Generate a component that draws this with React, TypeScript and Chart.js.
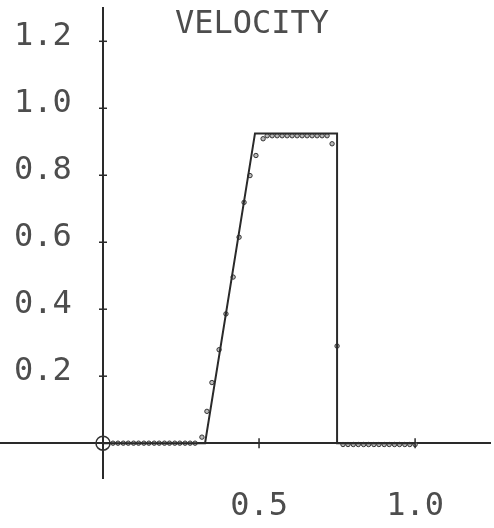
import React, { useEffect, useRef } from 'react';
import { Chart, registerables } from 'chart.js';

Chart.register(...registerables);

const TITLE = 'VELOCITY';

// exact solution (solid line)
const exactX = [0, 0.327, 0.487, 0.75, 0.75, 1.0];
const exactY = [0, 0, 0.925, 0.925, 0, 0];

// computed particle velocities (markers)
const particleX = [
  0.032, 0.048, 0.065, 0.081, 0.098, 0.114, 0.131, 0.147, 0.164, 0.18, 0.197, 0.213, 0.23, 0.246, 0.263, 0.279, 0.295,
  0.317, 0.333, 0.349, 0.372, 0.394, 0.417, 0.436, 0.452, 0.471, 0.49, 0.513,
  0.526, 0.542, 0.558, 0.574, 0.59, 0.606, 0.622, 0.638, 0.654, 0.67, 0.686, 0.702, 0.718,
  0.734, 0.75,
  0.769, 0.785, 0.802, 0.818, 0.835, 0.851, 0.868, 0.884, 0.901, 0.917, 0.934, 0.95, 0.967, 0.983, 1.0,
];
const particleY = [
  0, 0, 0, 0, 0, 0, 0, 0, 0, 0, 0, 0, 0, 0, 0, 0, 0,
  0.018, 0.095, 0.181, 0.279, 0.386, 0.496, 0.615, 0.719, 0.799, 0.859, 0.909,
  0.918, 0.918, 0.918, 0.918, 0.918, 0.918, 0.918, 0.918, 0.918, 0.918, 0.918, 0.918, 0.918,
  0.894, 0.29,
  -0.004, -0.004, -0.004, -0.004, -0.004, -0.004, -0.004, -0.004, -0.004, -0.004, -0.004, -0.004, -0.004, -0.004, -0.004,
];

const originX = [0];
const originY = [0];

const xTickValues = [0.5, 1.0];
const yTickValues = [0.2, 0.4, 0.6, 0.8, 1.0, 1.2];

const X_MIN = -0.33;
const X_MAX = 1.24;
const Y_MIN = -0.104;
const Y_MAX = 1.3;
const Y_LABEL_ANCHOR = -0.1; // x value where the y tick labels end

const FONT_FAMILY = '"DejaVu Sans Mono", "Liberation Mono", monospace';
const INK = '#2a2a2a';
const LABEL_INK = '#4d4d4d';

const plotterPlugin = {
  id: 'plotterDecor',
  afterDraw(chart: any) {
    const { ctx, scales } = chart;
    const xs = scales.x;
    const ys = scales.y;
    const x0 = xs.getPixelForValue(0);
    const y0 = ys.getPixelForValue(0);
    ctx.save();
    ctx.strokeStyle = INK;
    ctx.lineWidth = 1.5;
    ys.ticks.forEach((t: any) => {
      const py = ys.getPixelForValue(t.value);
      ctx.beginPath();
      ctx.moveTo(x0 - 4, py);
      ctx.lineTo(x0 + 4, py);
      ctx.stroke();
    });
    xs.ticks.forEach((t: any) => {
      const px = xs.getPixelForValue(t.value);
      ctx.beginPath();
      ctx.moveTo(px, y0 - 5);
      ctx.lineTo(px, y0 + 5);
      ctx.stroke();
    });
    ctx.fillStyle = LABEL_INK;
    ctx.font = `32px ${FONT_FAMILY}`;
    ctx.textAlign = 'center';
    ctx.textBaseline = 'alphabetic';
    ctx.fillText(TITLE, chart.width * 0.51, 33);
    ctx.restore();
  },
};

export default function App() {
  const canvasRef = useRef<HTMLCanvasElement | null>(null);

  useEffect(() => {
    const canvas = canvasRef.current;
    if (!canvas) return;
    const chart = new Chart(canvas, {
      type: 'line',
      data: {
        datasets: [
          {
            label: 'exact',
            data: exactX.map((x, i) => ({ x, y: exactY[i] })),
            borderColor: INK,
            borderWidth: 2,
            pointRadius: 0,
            tension: 0,
            fill: false,
          },
          {
            label: 'particles',
            data: particleX.map((x, i) => ({ x, y: particleY[i] })),
            showLine: false,
            pointStyle: 'circle',
            pointRadius: 2.2,
            pointBorderWidth: 1,
            pointBorderColor: '#333',
            pointBackgroundColor: '#bbb',
          },
          {
            label: 'origin',
            data: originX.map((x, i) => ({ x, y: originY[i] })),
            showLine: false,
            pointStyle: 'circle',
            pointRadius: 7,
            pointBorderWidth: 1.5,
            pointBorderColor: '#333',
            pointBackgroundColor: 'rgba(0,0,0,0)',
          },
        ],
      },
      options: {
        responsive: false,
        animation: false,
        layout: { autoPadding: false, padding: { top: 5, right: 4, bottom: 50, left: 0 } } as any,
        plugins: {
          legend: { display: false },
          tooltip: { enabled: false },
          title: { display: false },
        },
        scales: {
          x: {
            type: 'linear',
            min: X_MIN,
            max: X_MAX,
            position: { y: 0 } as any,
            afterBuildTicks: (s: any) => {
              s.ticks = xTickValues.map((v) => ({ value: v }));
            },
            ticks: {
              autoSkip: false,
              maxRotation: 0,
              padding: 36,
              color: LABEL_INK,
              font: { family: FONT_FAMILY, size: 32 },
              callback: (v: any) => Number(v).toFixed(1),
            },
            grid: { display: false },
            border: { display: true, color: INK, width: 2 },
          },
          y: {
            type: 'linear',
            min: Y_MIN,
            max: Y_MAX,
            position: { x: Y_LABEL_ANCHOR } as any,
            afterBuildTicks: (s: any) => {
              s.ticks = yTickValues.map((v) => ({ value: v }));
            },
            ticks: {
              autoSkip: false,
              labelOffset: -5,
              color: LABEL_INK,
              font: { family: FONT_FAMILY, size: 32, lineHeight: 0.3 },
              callback: (v: any) => Number(v).toFixed(1),
            },
            grid: { display: false },
            border: { display: false },
          },
          yAxis: {
            type: 'linear',
            min: Y_MIN,
            max: Y_MAX,
            position: { x: 0 } as any,
            ticks: { display: false },
            grid: { display: false },
            border: { display: true, color: INK, width: 2 },
          },
        },
      },
      plugins: [plotterPlugin],
    });
    return () => chart.destroy();
  }, []);

  return (
    <div style={{ position: 'absolute', left: 0, top: 0, width: 494, height: 528, background: '#fff' }}>
      <canvas ref={canvasRef} width={494} height={528} />
    </div>
  );
}
